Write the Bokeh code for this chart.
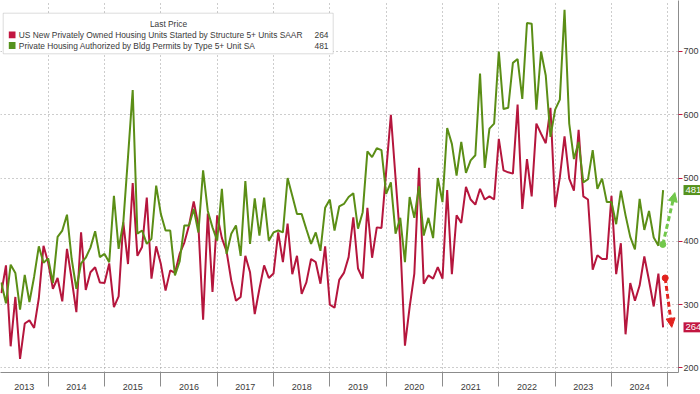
import pandas as pd
from bokeh.plotting import figure
from bokeh.models import FixedTicker, Label, BoxAnnotation, Arrow, NormalHead, Range1d
from bokeh.embed import file_html
from bokeh.resources import INLINE

# ---- data (monthly, Feb 2013 .. Nov 2024), thousands of units ----
months = pd.period_range("2013-02", "2024-11", freq="M")

starts_5plus = [
    318, 362, 234, 312, 214, 270, 275, 263, 310, 393, 366,            # 2013 Feb-Dec
    325, 342, 305, 388, 340, 288, 414, 323, 351, 359, 335, 334,       # 2014
    365, 296, 313, 430, 364, 492, 377, 391, 469, 341, 392, 364,       # 2015
    322, 354, 350, 380, 398, 425, 463, 425, 276, 444, 320, 441,       # 2016
    405, 384, 338, 306, 312, 377, 351, 285, 325, 362, 342, 349,       # 2017
    414, 367, 428, 348, 377, 317, 335, 372, 367, 333, 392, 300,       # 2018
    295, 339, 350, 375, 438, 357, 341, 453, 374, 422, 421, 510,       # 2019
    600, 500, 400, 235, 296, 349, 516, 333, 346, 341, 359, 341,       # 2020
    481, 348, 441, 429, 486, 466, 458, 483, 466, 471, 466, 562,       # 2021
    512, 509, 507, 616, 451, 530, 471, 586, 570, 555, 611, 454,       # 2022
    501, 566, 499, 480, 576, 471, 466, 355, 378, 372, 372, 472,       # 2023
    348, 397, 253, 334, 306, 330, 376, 338, 297, 349, 264,            # 2024 Jan-Nov
]

permits_5plus = [
    335, 302, 363, 350, 292, 347, 304, 344, 392, 366, 373,            # 2013 Feb-Dec
    334, 407, 417, 442, 372, 325, 365, 374, 390, 416, 375, 380,       # 2014
    367, 472, 388, 430, 533, 639, 412, 417, 396, 404, 488, 443,       # 2015
    417, 417, 346, 368, 425, 425, 451, 414, 512, 448, 422, 401,       # 2016
    483, 380, 412, 425, 377, 495, 396, 468, 409, 469, 401, 414,       # 2017
    417, 414, 500, 472, 443, 443, 419, 396, 414, 385, 453, 466,       # 2018
    417, 455, 459, 470, 476, 420, 446, 542, 533, 547, 544, 475,       # 2019
    493, 412, 437, 367, 470, 437, 487, 409, 437, 405, 500, 462,       # 2020
    579, 554, 504, 557, 508, 528, 536, 665, 516, 578, 586, 700,       # 2021
    609, 611, 682, 688, 625, 745, 744, 608, 700, 662, 565, 608,       # 2022
    624, 766, 586, 530, 557, 493, 498, 544, 483, 499, 462, 462,       # 2023
    427, 480, 441, 407, 387, 467, 418, 448, 406, 393, 481,            # 2024 Jan-Nov
]

series_names = [
    "US New Privately Owned Housing Units Started by Structure 5+ Units SAAR",
    "Private Housing Authorized by Bldg Permits by Type 5+ Unit SA",
]
legend_title = "Last Price"
year_labels = [str(y) for y in range(2013, 2025)]
y_ticks = [200, 300, 400, 500, 600, 700]

# ---- styling ----
RED = "#b5163d"
GREEN = "#5b8e16"
RED_TAG = "#c21640"
GREEN_TAG = "#55921c"
RED_ARROW = "#e2231f"
GREEN_ARROW = "#72c84c"
TXT = "#3a3a3a"
GRID = "#9a9a9a"
FONT = "Liberation Sans"
LEG_FS = "8.4px"

# end-of-month position on a fractional-year axis
x = [m.year + m.month / 12 for m in months]

FW, FH = 678, 372
X0, X1 = 2013.153, 2025.19
Y0, Y1 = 192.6, 780.6


def dx(px_from_left):
    return X0 + px_from_left / FW * (X1 - X0)


def dy(px_from_top):
    return Y1 - px_from_top / FH * (Y1 - Y0)


p = figure(frame_width=FW, frame_height=FH, output_backend="svg", toolbar_location=None,
           x_range=Range1d(X0, X1), y_range=Range1d(Y0, Y1),
           y_axis_location="right", min_border_left=0, min_border_top=0,
           min_border_bottom=0, min_border_right=0)
p.outline_line_color = None
p.background_fill_color = "white"
p.border_fill_color = "white"

# x axis: labels centred on the visible part of each year, separators at year boundaries
label_pos = [(max(X0, int(y)) + min(X1, int(y) + 1)) / 2 for y in year_labels]
xa = p.xaxis[0]
xa.ticker = FixedTicker(ticks=label_pos,
                        minor_ticks=[int(y) for y in year_labels] + [2025])
xa.major_label_overrides = dict(zip(label_pos, year_labels))
xa.major_tick_out = 0
xa.major_tick_in = 0
xa.minor_tick_out = 14
xa.minor_tick_in = 0
xa.minor_tick_line_color = "#8c8c8c"
xa.axis_line_color = "#8c8c8c"
xa.major_label_standoff = -3
xa.major_label_text_font_size = "9px"
xa.major_label_text_font = FONT
xa.major_label_text_color = TXT

ya = p.yaxis[0]
ya.ticker = FixedTicker(ticks=y_ticks)
ya.major_tick_out = 4
ya.major_tick_in = 0
ya.major_tick_line_color = RED_TAG
ya.major_tick_line_width = 1
ya.minor_tick_line_color = None
ya.axis_line_color = "#8c8c8c"
ya.major_label_standoff = 1
ya.major_label_text_font_size = "9px"
ya.major_label_text_font = FONT
ya.major_label_text_color = TXT

p.xgrid.ticker = FixedTicker(ticks=[int(y) for y in year_labels[1:]] + [2025])
p.ygrid.ticker = FixedTicker(ticks=y_ticks)
for g in (p.xgrid, p.ygrid):
    g.grid_line_color = GRID
    g.grid_line_dash = "1 3"
    g.grid_line_width = 1

# series
p.line(x, starts_5plus, line_color=RED, line_width=2)
p.line(x, permits_5plus, line_color=GREEN, line_width=2)

# change arrows (previous value -> latest value)
last_x = x[-1]
p.add_layout(Arrow(end=NormalHead(size=9, fill_color=GREEN_ARROW, line_color=GREEN_ARROW),
                   x_start=last_x - 0.005, y_start=permits_5plus[-2] + 2,
                   x_end=last_x + 2.5 / 12, y_end=permits_5plus[-1] - 4,
                   line_color=GREEN_ARROW, line_width=3, line_dash="5 3"))
p.scatter([last_x - 0.005], [permits_5plus[-2] + 2], size=6, color=GREEN_ARROW)
p.add_layout(Arrow(end=NormalHead(size=9, fill_color=RED_ARROW, line_color=RED_ARROW),
                   x_start=last_x + 0.45 / 12, y_start=starts_5plus[-2] - 7,
                   x_end=last_x + 1.85 / 12, y_end=starts_5plus[-1],
                   line_color=RED_ARROW, line_width=3, line_dash="5 3"))
p.scatter([last_x + 0.45 / 12], [starts_5plus[-2] - 7], size=6, color=RED_ARROW)

# legend box
L_LEFT, L_TOP, L_W, L_H = 2.7, 12.7, 330, 40.6   # px from frame top-left
p.add_layout(BoxAnnotation(left=dx(L_LEFT), right=dx(L_LEFT + L_W),
                           top=dy(L_TOP), bottom=dy(L_TOP + L_H),
                           fill_color="white", fill_alpha=1.0,
                           line_color="#8a8a8a", line_width=1))
p.add_layout(Label(x=L_LEFT + 165.3, y=FH - (L_TOP + 10.6), x_units="screen", y_units="screen",
                   text=legend_title, text_align="center", text_baseline="middle",
                   text_font=FONT, text_font_size=LEG_FS, text_color=TXT))
rows = [(series_names[0], starts_5plus[-1], RED_TAG, 21.6),
        (series_names[1], permits_5plus[-1], GREEN_TAG, 32.3)]
for name, last, col, off in rows:
    yy = L_TOP + off
    p.add_layout(BoxAnnotation(left=dx(L_LEFT + 5.6), right=dx(L_LEFT + 12.3),
                               top=dy(yy - 3.4), bottom=dy(yy + 3.4),
                               fill_color=col, fill_alpha=1.0, line_color=None))
    p.add_layout(Label(x=L_LEFT + 15.6, y=FH - yy, x_units="screen", y_units="screen",
                       text=name, text_align="left", text_baseline="middle",
                       text_font=FONT, text_font_size=LEG_FS, text_color=TXT))
    p.add_layout(Label(x=L_LEFT + 325.3, y=FH - yy, x_units="screen", y_units="screen",
                       text=str(last), text_align="right", text_baseline="middle",
                       text_font=FONT, text_font_size=LEG_FS, text_color=TXT))

# last-value tags over the right axis (side-panel labels are not clipped to the frame)
tag_x = dx(FW + 5)
for last, col in ((permits_5plus[-1], GREEN_TAG), (starts_5plus[-1], RED_TAG)):
    p.add_layout(Label(x=tag_x, y=last, x_units="data", y_units="data",
                       text=str(last), text_align="left", text_baseline="middle",
                       text_font=FONT, text_font_size="9.5px", text_color="white",
                       background_fill_color=col, background_fill_alpha=1.0,
                       padding=2), "below")

open("out.html", "w").write(file_html(p, INLINE))
